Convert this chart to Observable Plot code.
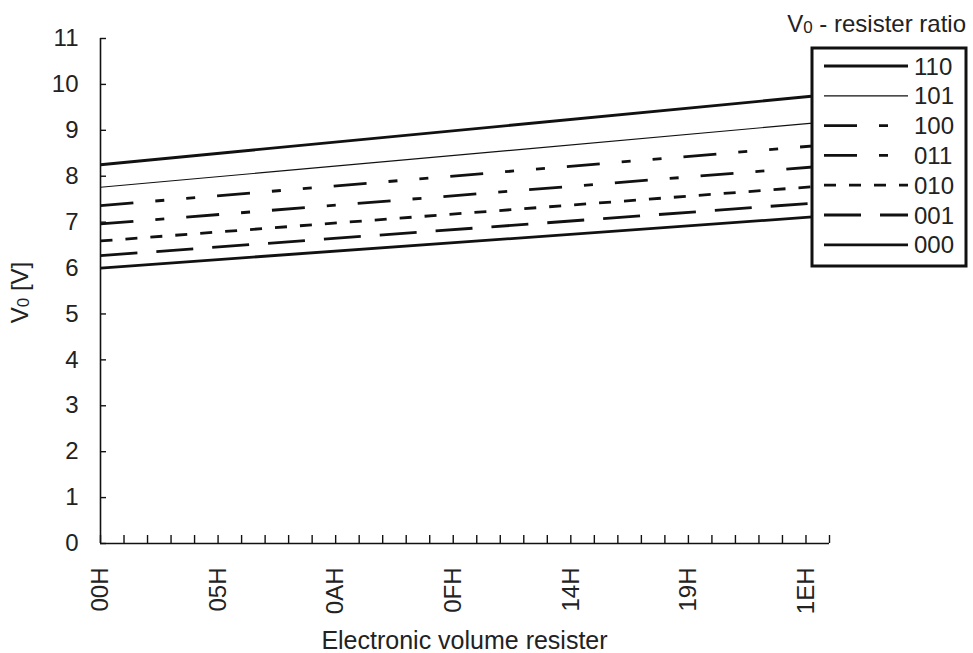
<!DOCTYPE html>
<html><head><meta charset="utf-8">
<script src="https://cdn.jsdelivr.net/npm/d3@7"></script>
<script src="https://cdn.jsdelivr.net/npm/@observablehq/plot@0.6"></script>
<style>
body{margin:0;background:#fff;}
#wrap{position:relative;width:973px;height:653px;}
</style></head><body><div id="wrap"></div>
<script>
// ---- data ----
const series = ["110","101","100","011","010","001","000"];
const xEnds = ["00H","1FH"];
const v0At00H = [8.25, 7.76, 7.36, 6.96, 6.59, 6.27, 6.00];
const v0At1FH = [9.78, 9.19, 8.69, 8.23, 7.80, 7.44, 7.14];
const xTickLabels = ["00H","05H","0AH","0FH","14H","19H","1EH"];
const yTicks = [0,1,2,3,4,5,6,7,8,9,10,11];
const xMinorTicks = d3.range(0, 32);

// ---- styles ----
const ink = "#111";
const textColor = "#222";
const font = "'Liberation Sans', Arial, sans-serif";
const fs = 24;
const lineStyle = {
  "110": {w: 2.8, dash: null},
  "101": {w: 1.2, dash: null},
  "100": {w: 2.8, dash: "33,22,9,22,9,22"},
  "011": {w: 2.8, dash: "33,22,9,22"},
  "010": {w: 2.8, dash: "12,13"},
  "001": {w: 2.8, dash: "37,19"},
  "000": {w: 2.8, dash: null}
};

const hex = s => parseInt(s.replace("H",""), 16);
const data = series.flatMap((s, i) => [
  {s, x: hex(xEnds[0]), v: v0At00H[i]},
  {s, x: hex(xEnds[1]), v: v0At1FH[i]}
]);

const plot = Plot.plot({
  width: 973, height: 653,
  marginLeft: 100, marginRight: 144, marginTop: 38, marginBottom: 110,
  style: {fontFamily: font, fontSize: fs + "px", color: textColor, background: "#fff"},
  x: {domain: [0, 31], label: null},
  y: {domain: [0, 11], label: null},
  marks: [
    ...series.map(s => Plot.line(data.filter(d => d.s === s), {
      x: "x", y: "v", stroke: ink, strokeWidth: lineStyle[s].w,
      strokeDasharray: lineStyle[s].dash, strokeLinecap: "butt"
    })),
    Plot.axisY(yTicks, {anchor: "left", tickSize: 6, dx: 6, tickPadding: 22, stroke: ink, strokeWidth: 1.4,
      fill: textColor, fontSize: fs, label: null, tickFormat: d => String(d)}),
    Plot.axisX(xMinorTicks, {anchor: "bottom", tickSize: 8, dy: -8, stroke: ink, strokeWidth: 1.4, tickFormat: () => "", label: null}),
    Plot.axisX(xTickLabels.map(hex), {anchor: "bottom", tickSize: 0, tickPadding: 24, tickRotate: -90, fill: textColor,
      fontSize: fs, tickFormat: d => xTickLabels[xTickLabels.map(hex).indexOf(d)], label: null}),
    Plot.ruleX([0], {stroke: ink, strokeWidth: 1.6}),
    Plot.ruleY([0], {stroke: ink, strokeWidth: 1.6})
  ]
});
document.getElementById("wrap").appendChild(plot);

const svg = d3.select(plot);
const xs = plot.scale("x"), ys = plot.scale("y");
const cx = (xs.apply(0) + xs.apply(31)) / 2;
const cy = (ys.apply(0) + ys.apply(11)) / 2;

// axis titles
svg.append("text")
  .attr("x", cx).attr("y", 649)
  .attr("text-anchor", "middle").attr("fill", textColor)
  .style("font-size", "25px").style("font-family", font)
  .text("Electronic volume resister");

const yl = svg.append("text")
  .attr("transform", `translate(28,${cy + 2}) rotate(-90)`)
  .attr("text-anchor", "middle").attr("fill", textColor)
  .style("font-size", fs + "px").style("font-family", font);
yl.append("tspan").text("V");
yl.append("tspan").attr("font-size", "17px").attr("dy", "1").text("0");
yl.append("tspan").attr("dy", "-1").text(" [V]");

// legend
const lg = svg.append("g").style("font-family", font).attr("text-anchor", "start");
const lt = lg.append("text").attr("x", 966).attr("y", 32).attr("text-anchor", "end")
  .attr("fill", textColor).style("font-size", fs + "px");
lt.append("tspan").text("V");
lt.append("tspan").attr("font-size", "17px").attr("dy", "1").text("0");
lt.append("tspan").attr("dy", "-1").text(" - resister ratio");

lg.append("rect").attr("x", 812).attr("y", 48).attr("width", 154).attr("height", 218)
  .attr("fill", "#fff").attr("stroke", ink).attr("stroke-width", 3);
series.forEach((s, i) => {
  const y = 66 + i * 29.8;
  lg.append("line").attr("x1", 824).attr("x2", 908).attr("y1", y).attr("y2", y)
    .attr("stroke", ink).attr("stroke-width", lineStyle[s].w)
    .attr("stroke-dasharray", lineStyle[s].dash);
  lg.append("text").attr("x", 914).attr("y", y).attr("dy", "0.36em").attr("text-anchor", "start")
    .attr("fill", textColor).style("font-size", fs + "px").text(s);
});
</script></body></html>
